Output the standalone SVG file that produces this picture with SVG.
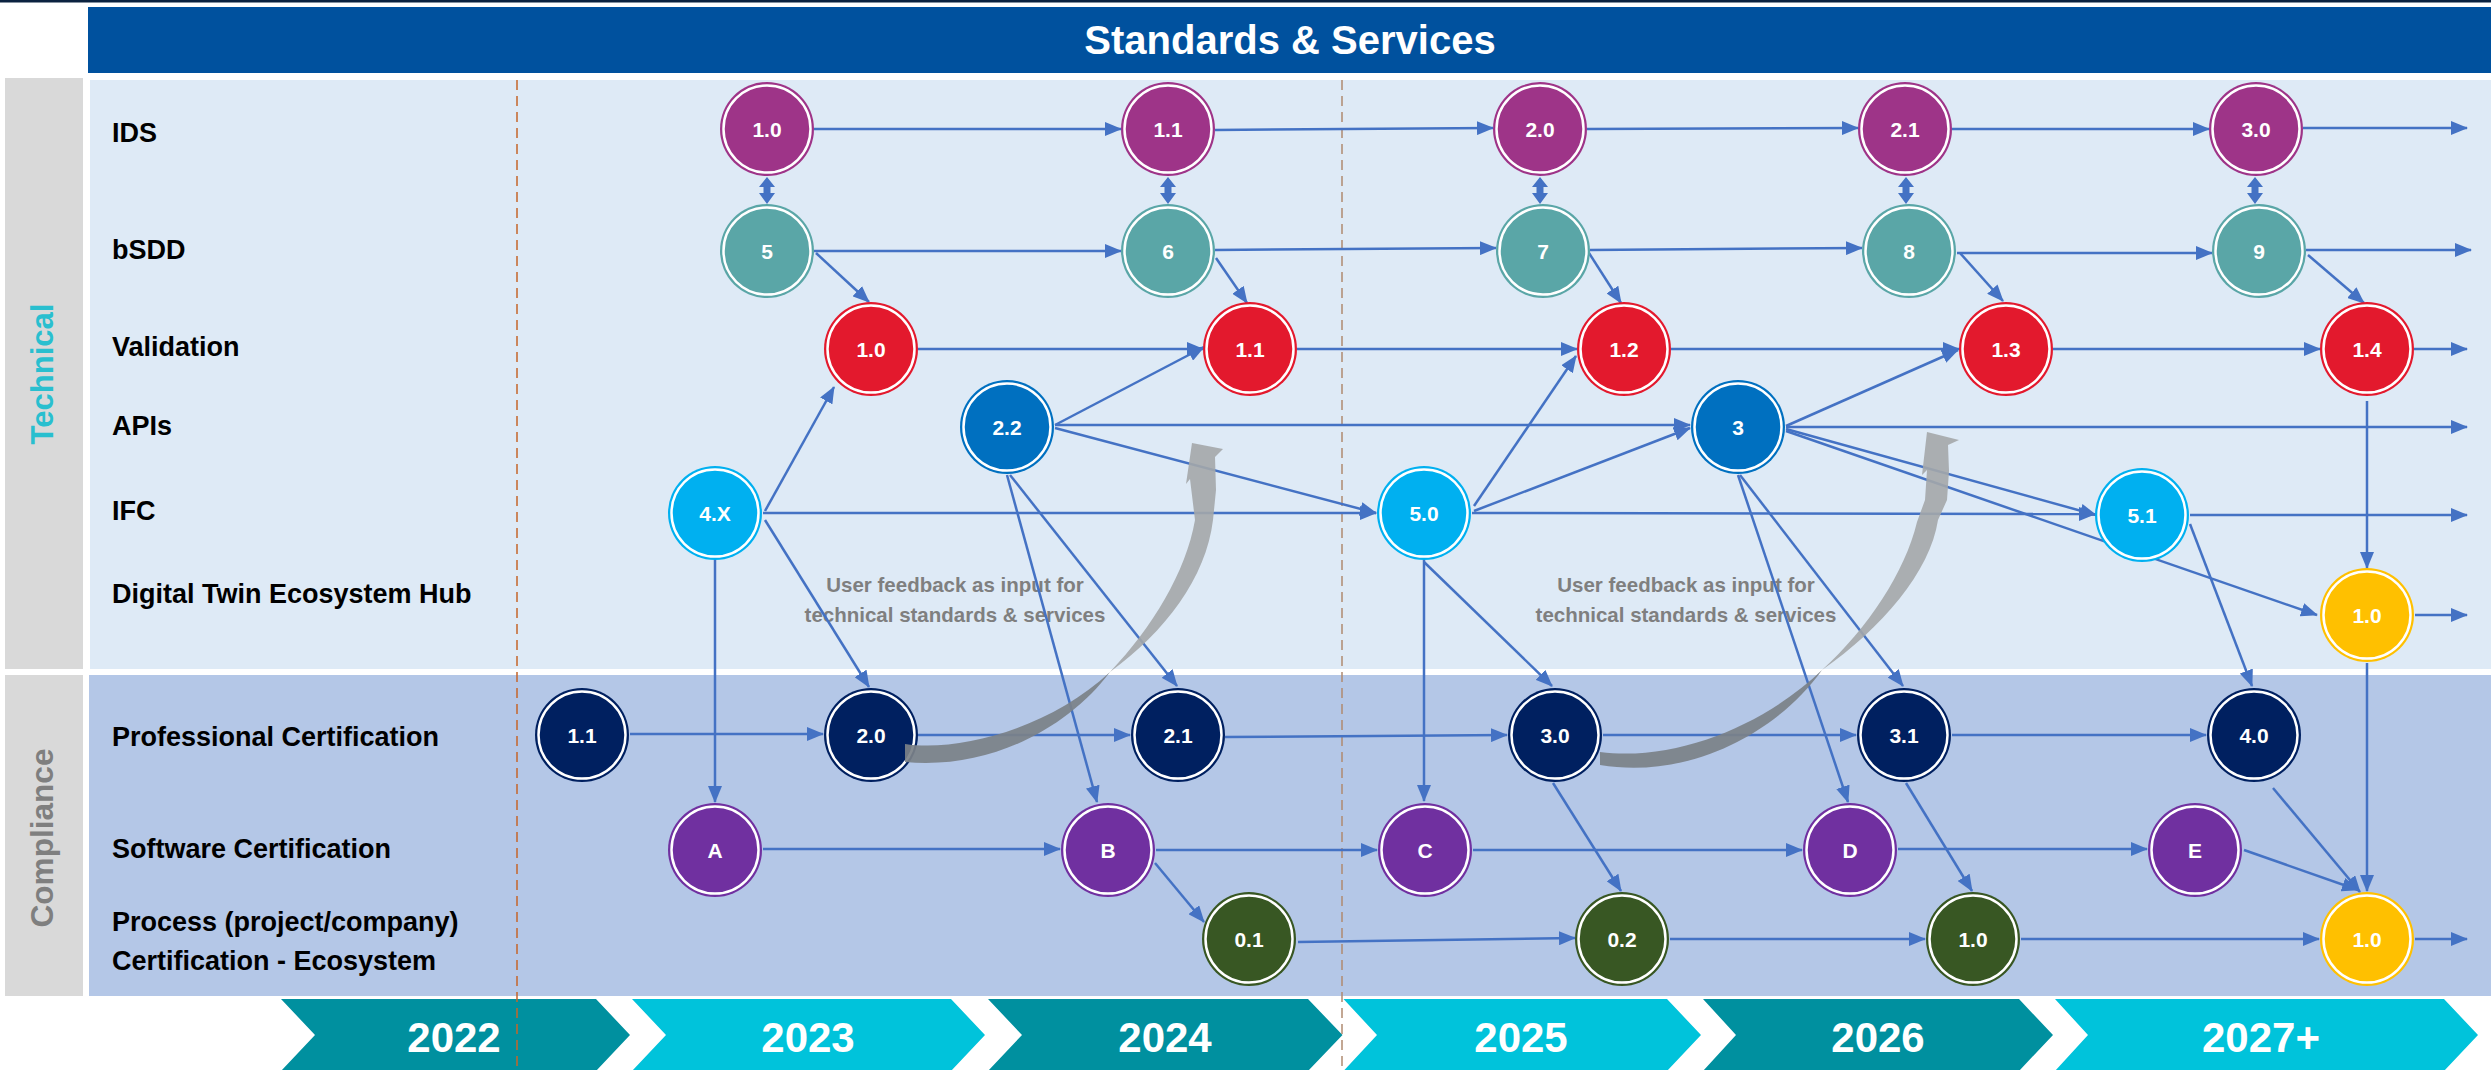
<svg xmlns="http://www.w3.org/2000/svg" width="2491" height="1070" viewBox="0 0 2491 1070">
<style>
.lbl{font-family:"Liberation Sans",Arial,sans-serif;font-weight:bold;font-size:27px;fill:#000}
.side{font-family:"Liberation Sans",Arial,sans-serif;font-weight:bold;font-size:31px;text-anchor:middle}
.yr{font-family:"Liberation Sans",Arial,sans-serif;font-weight:bold;font-size:42px;fill:#fff;text-anchor:middle}
.fb{font-family:"Liberation Sans",Arial,sans-serif;font-weight:bold;font-size:20.5px;fill:#7f7f7f;text-anchor:middle}
.node text{font-family:"Liberation Sans",Arial,sans-serif;font-weight:bold;font-size:21px;fill:#fff;text-anchor:middle}
.ring{fill:none;stroke:#fff;stroke-width:2.5}
.ids .bg{fill:#9e3488}
.bsdd .bg{fill:#5aa6a7}
.val .bg{fill:#e3192d}
.api .bg{fill:#0070c0}
.ifc .bg{fill:#00b0f0}
.dt .bg{fill:#ffc000}
.prof .bg{fill:#002060}
.soft .bg{fill:#7030a0}
.proc .bg{fill:#385723}
#connectors line{stroke:#4472c4;stroke-width:2.5;fill:none;marker-end:url(#ah)}
.dash{stroke:#c5652a;stroke-width:1.5;stroke-dasharray:10 6;fill:none}
.chev-d{fill:#00909f}
.chev-l{fill:#00c3db}
.dbl{fill:#4472c4}
.gdark{fill:#7b8188;opacity:0.92}
.glight{fill:#a4a7aa;opacity:0.9}
</style>
<defs>
<marker id="ah" markerUnits="userSpaceOnUse" markerWidth="18" markerHeight="14" refX="16" refY="7" orient="auto">
<path d="M0,0 L17,7 L0,14 Z" fill="#4472c4"/>
</marker>
<path id="dblarrow" d="M0,177 L8,187 L3.5,187 L3.5,193 L8,193 L0,204 L-8,193 L-3.5,193 L-3.5,187 L-8,187 Z"/>
</defs>

<rect width="2491" height="1070" fill="#ffffff"/>
<rect x="0" y="0" width="2491" height="2.5" fill="#0b2240"/>

<!-- header -->
<g id="header">
<rect x="88" y="7" width="2403" height="66" fill="#00519e"/>
<text x="1290" y="54" font-family="Liberation Sans, Arial, sans-serif" font-weight="bold" font-size="40" fill="#fff" text-anchor="middle">Standards &amp; Services</text>
</g>

<!-- panels -->
<g id="panels">
<rect x="5" y="78" width="78" height="591" fill="#d9d9d9"/>
<rect x="5" y="675" width="78" height="321" fill="#d9d9d9"/>
<rect x="90" y="80" width="2401" height="589" fill="#deeaf6"/>
<rect x="89" y="675" width="2402" height="321" fill="#b4c7e7"/>
<text class="side" fill="#29bfcf" transform="translate(53,374) rotate(-90)" textLength="141" lengthAdjust="spacingAndGlyphs">Technical</text>
<text class="side" fill="#7f7f7f" transform="translate(53,838) rotate(-90)" textLength="179" lengthAdjust="spacingAndGlyphs">Compliance</text>
</g>

<!-- row labels -->
<g id="row-labels">
<text class="lbl" x="112" y="142">IDS</text>
<text class="lbl" x="112" y="259">bSDD</text>
<text class="lbl" x="112" y="356">Validation</text>
<text class="lbl" x="112" y="435">APIs</text>
<text class="lbl" x="112" y="520">IFC</text>
<text class="lbl" x="112" y="603">Digital Twin Ecosystem Hub</text>
<text class="lbl" x="112" y="746">Professional Certification</text>
<text class="lbl" x="112" y="858">Software Certification</text>
<text class="lbl" x="112" y="931">Process (project/company)</text>
<text class="lbl" x="112" y="970">Certification - Ecosystem</text>
</g>

<!-- timeline chevrons -->
<g id="timeline">
<polygon class="chev-d" points="281,999 596,999 630,1035 596,1071 281,1071 315,1035"/>
<polygon class="chev-l" points="632,999 951,999 985,1035 951,1071 632,1071 666,1035"/>
<polygon class="chev-d" points="988,999 1308,999 1342.5,1035 1308,1071 988,1071 1022,1035"/>
<polygon class="chev-l" points="1343.5,999 1667,999 1701,1035 1667,1071 1343.5,1071 1377,1035"/>
<polygon class="chev-d" points="1703,999 2019,999 2053,1035 2019,1071 1703,1071 1736,1035"/>
<polygon class="chev-l" points="2055,999 2444,999 2478,1035 2444,1071 2055,1071 2088,1035"/>
<text class="yr" x="454" y="1052">2022</text>
<text class="yr" x="808" y="1052">2023</text>
<text class="yr" x="1165" y="1052">2024</text>
<text class="yr" x="1521" y="1052">2025</text>
<text class="yr" x="1878" y="1052">2026</text>
<text class="yr" x="2261" y="1052">2027+</text>
</g>

<!-- year separators -->
<g id="separators">
<line class="dash" x1="517" y1="80" x2="517" y2="1070"/>
<line class="dash" x1="1342" y1="80" x2="1342" y2="1070" style="stroke:#b08a70"/>
</g>

<!-- feedback captions -->
<g id="captions">
<text class="fb" x="955" y="592">User feedback as input for</text>
<text class="fb" x="955" y="622">technical standards &amp; services</text>
<text class="fb" x="1686" y="592">User feedback as input for</text>
<text class="fb" x="1686" y="622">technical standards &amp; services</text>
</g>

<!-- connectors -->
<g id="connectors">
<line x1="814" y1="129" x2="1121" y2="129"/>
<line x1="1215" y1="130" x2="1493" y2="128"/>
<line x1="1587" y1="129" x2="1858" y2="128"/>
<line x1="1952" y1="129" x2="2209" y2="129"/>
<line x1="2303" y1="128" x2="2467" y2="128"/>
<line x1="814" y1="251" x2="1121" y2="251"/>
<line x1="1215" y1="250" x2="1496" y2="248"/>
<line x1="1590" y1="250" x2="1862" y2="248"/>
<line x1="1957" y1="253" x2="2212" y2="253"/>
<line x1="2306" y1="250" x2="2471" y2="250"/>
<line x1="816" y1="253" x2="869" y2="302"/>
<line x1="1216" y1="258" x2="1247" y2="303"/>
<line x1="1589" y1="253" x2="1621" y2="303"/>
<line x1="1960" y1="253" x2="2003" y2="301"/>
<line x1="2308" y1="255" x2="2364" y2="303"/>
<line x1="918" y1="349" x2="1203" y2="349"/>
<line x1="1297" y1="349" x2="1577" y2="349"/>
<line x1="1671" y1="349" x2="1959" y2="349"/>
<line x1="2053" y1="349" x2="2320" y2="349"/>
<line x1="2414" y1="349" x2="2467" y2="349"/>
<line x1="2367" y1="401" x2="2367" y2="568"/>
<line x1="1055" y1="425" x2="1204" y2="347"/>
<line x1="1055" y1="425" x2="1690" y2="425"/>
<line x1="1055" y1="428" x2="1376" y2="513"/>
<line x1="1786" y1="426" x2="1958" y2="350"/>
<line x1="1786" y1="427" x2="2467" y2="427"/>
<line x1="1786" y1="429" x2="2096" y2="515"/>
<line x1="1786" y1="431" x2="2317" y2="615"/>
<line x1="765" y1="511" x2="834" y2="387"/>
<line x1="763" y1="513" x2="1376" y2="513"/>
<line x1="1474" y1="506" x2="1576" y2="356"/>
<line x1="1474" y1="511" x2="1690" y2="428"/>
<line x1="1472" y1="513" x2="2095" y2="514"/>
<line x1="2190" y1="515" x2="2467" y2="515"/>
<line x1="2190" y1="524" x2="2252" y2="686"/>
<line x1="715" y1="560" x2="715" y2="802"/>
<line x1="765" y1="520" x2="869" y2="687"/>
<line x1="1424" y1="560" x2="1424" y2="801"/>
<line x1="1424" y1="562" x2="1552" y2="686"/>
<line x1="1007" y1="475" x2="1097" y2="802"/>
<line x1="1010" y1="475" x2="1177" y2="686"/>
<line x1="1738" y1="475" x2="1848" y2="802"/>
<line x1="1740" y1="475" x2="1903" y2="686"/>
<line x1="2415" y1="615" x2="2467" y2="615"/>
<line x1="2367" y1="663" x2="2367" y2="891"/>
<line x1="630" y1="734" x2="823" y2="734"/>
<line x1="918" y1="735" x2="1130" y2="735"/>
<line x1="1225" y1="737" x2="1507" y2="735"/>
<line x1="1603" y1="735" x2="1856" y2="735"/>
<line x1="1952" y1="735" x2="2206" y2="735"/>
<line x1="1553" y1="783" x2="1621" y2="891"/>
<line x1="1906" y1="783" x2="1972" y2="891"/>
<line x1="2273" y1="788" x2="2360" y2="892"/>
<line x1="763" y1="849" x2="1060" y2="849"/>
<line x1="1156" y1="850" x2="1377" y2="850"/>
<line x1="1473" y1="850" x2="1802" y2="850"/>
<line x1="1898" y1="849" x2="2147" y2="849"/>
<line x1="1155" y1="863" x2="1204" y2="922"/>
<line x1="2244" y1="850" x2="2358" y2="890"/>
<line x1="1298" y1="942" x2="1575" y2="938"/>
<line x1="1670" y1="939" x2="1925" y2="939"/>
<line x1="2021" y1="939" x2="2319" y2="939"/>
<line x1="2415" y1="939" x2="2467" y2="939"/>
</g>

<!-- IDS <-> bSDD double arrows -->
<g id="ids-bsdd-links" class="dbl">
<use href="#dblarrow" x="767"/>
<use href="#dblarrow" x="1168"/>
<use href="#dblarrow" x="1540"/>
<use href="#dblarrow" x="1906"/>
<use href="#dblarrow" x="2255"/>
</g>

<!-- nodes -->
<g id="ids-1-0" class="node ids" transform="translate(767,129)"><circle class="bg" r="47"/><circle class="ring" r="43.5"/><text y="7.5">1.0</text></g>
<g id="ids-1-1" class="node ids" transform="translate(1168,129)"><circle class="bg" r="47"/><circle class="ring" r="43.5"/><text y="7.5">1.1</text></g>
<g id="ids-2-0" class="node ids" transform="translate(1540,129)"><circle class="bg" r="47"/><circle class="ring" r="43.5"/><text y="7.5">2.0</text></g>
<g id="ids-2-1" class="node ids" transform="translate(1905,129)"><circle class="bg" r="47"/><circle class="ring" r="43.5"/><text y="7.5">2.1</text></g>
<g id="ids-3-0" class="node ids" transform="translate(2256,129)"><circle class="bg" r="47"/><circle class="ring" r="43.5"/><text y="7.5">3.0</text></g>

<g id="bsdd-5" class="node bsdd" transform="translate(767,251)"><circle class="bg" r="47"/><circle class="ring" r="43.5"/><text y="7.5">5</text></g>
<g id="bsdd-6" class="node bsdd" transform="translate(1168,251)"><circle class="bg" r="47"/><circle class="ring" r="43.5"/><text y="7.5">6</text></g>
<g id="bsdd-7" class="node bsdd" transform="translate(1543,251)"><circle class="bg" r="47"/><circle class="ring" r="43.5"/><text y="7.5">7</text></g>
<g id="bsdd-8" class="node bsdd" transform="translate(1909,251)"><circle class="bg" r="47"/><circle class="ring" r="43.5"/><text y="7.5">8</text></g>
<g id="bsdd-9" class="node bsdd" transform="translate(2259,251)"><circle class="bg" r="47"/><circle class="ring" r="43.5"/><text y="7.5">9</text></g>

<g id="val-1-0" class="node val" transform="translate(871,349)"><circle class="bg" r="47"/><circle class="ring" r="43.5"/><text y="7.5">1.0</text></g>
<g id="val-1-1" class="node val" transform="translate(1250,349)"><circle class="bg" r="47"/><circle class="ring" r="43.5"/><text y="7.5">1.1</text></g>
<g id="val-1-2" class="node val" transform="translate(1624,349)"><circle class="bg" r="47"/><circle class="ring" r="43.5"/><text y="7.5">1.2</text></g>
<g id="val-1-3" class="node val" transform="translate(2006,349)"><circle class="bg" r="47"/><circle class="ring" r="43.5"/><text y="7.5">1.3</text></g>
<g id="val-1-4" class="node val" transform="translate(2367,349)"><circle class="bg" r="47"/><circle class="ring" r="43.5"/><text y="7.5">1.4</text></g>

<g id="api-2-2" class="node api" transform="translate(1007,427)"><circle class="bg" r="47"/><circle class="ring" r="43.5"/><text y="7.5">2.2</text></g>
<g id="api-3" class="node api" transform="translate(1738,427)"><circle class="bg" r="47"/><circle class="ring" r="43.5"/><text y="7.5">3</text></g>

<g id="ifc-4-x" class="node ifc" transform="translate(715,513)"><circle class="bg" r="47"/><circle class="ring" r="43.5"/><text y="7.5">4.X</text></g>
<g id="ifc-5-0" class="node ifc" transform="translate(1424,513)"><circle class="bg" r="47"/><circle class="ring" r="43.5"/><text y="7.5">5.0</text></g>
<g id="ifc-5-1" class="node ifc" transform="translate(2142,515)"><circle class="bg" r="47"/><circle class="ring" r="43.5"/><text y="7.5">5.1</text></g>

<g id="dt-1-0" class="node dt" transform="translate(2367,615)"><circle class="bg" r="47"/><circle class="ring" r="43.5"/><text y="7.5">1.0</text></g>

<g id="prof-1-1" class="node prof" transform="translate(582,735)"><circle class="bg" r="47"/><circle class="ring" r="43.5"/><text y="7.5">1.1</text></g>
<g id="prof-2-0" class="node prof" transform="translate(871,735)"><circle class="bg" r="47"/><circle class="ring" r="43.5"/><text y="7.5">2.0</text></g>
<g id="prof-2-1" class="node prof" transform="translate(1178,735)"><circle class="bg" r="47"/><circle class="ring" r="43.5"/><text y="7.5">2.1</text></g>
<g id="prof-3-0" class="node prof" transform="translate(1555,735)"><circle class="bg" r="47"/><circle class="ring" r="43.5"/><text y="7.5">3.0</text></g>
<g id="prof-3-1" class="node prof" transform="translate(1904,735)"><circle class="bg" r="47"/><circle class="ring" r="43.5"/><text y="7.5">3.1</text></g>
<g id="prof-4-0" class="node prof" transform="translate(2254,735)"><circle class="bg" r="47"/><circle class="ring" r="43.5"/><text y="7.5">4.0</text></g>

<g id="soft-a" class="node soft" transform="translate(715,850)"><circle class="bg" r="47"/><circle class="ring" r="43.5"/><text y="7.5">A</text></g>
<g id="soft-b" class="node soft" transform="translate(1108,850)"><circle class="bg" r="47"/><circle class="ring" r="43.5"/><text y="7.5">B</text></g>
<g id="soft-c" class="node soft" transform="translate(1425,850)"><circle class="bg" r="47"/><circle class="ring" r="43.5"/><text y="7.5">C</text></g>
<g id="soft-d" class="node soft" transform="translate(1850,850)"><circle class="bg" r="47"/><circle class="ring" r="43.5"/><text y="7.5">D</text></g>
<g id="soft-e" class="node soft" transform="translate(2195,850)"><circle class="bg" r="47"/><circle class="ring" r="43.5"/><text y="7.5">E</text></g>

<g id="proc-0-1" class="node proc" transform="translate(1249,939)"><circle class="bg" r="47"/><circle class="ring" r="43.5"/><text y="7.5">0.1</text></g>
<g id="proc-0-2" class="node proc" transform="translate(1622,939)"><circle class="bg" r="47"/><circle class="ring" r="43.5"/><text y="7.5">0.2</text></g>
<g id="proc-1-0" class="node proc" transform="translate(1973,939)"><circle class="bg" r="47"/><circle class="ring" r="43.5"/><text y="7.5">1.0</text></g>
<g id="proc-eco-1-0" class="node dt" transform="translate(2367,939)"><circle class="bg" r="47"/><circle class="ring" r="43.5"/><text y="7.5">1.0</text></g>

<!-- feedback curved arrows -->
<g id="feedback-arrow-1">
<path class="gdark" d="M905,744 C960,752 1050,728 1110,672 C1068,728 990,770 905,762 Z"/>
<path class="glight" d="M1110,672 C1165,632 1206,578 1213,520 L1216,490 L1215,457 L1223,449 L1192,443 L1186,484 L1190,479 L1195,520 C1186,572 1152,628 1110,672 Z"/>
</g>
<g id="feedback-arrow-2">
<path class="gdark" d="M1600,752 C1680,762 1768,722 1822,670 C1778,732 1690,780 1600,765 Z"/>
<path class="glight" d="M1822,670 C1882,628 1930,572 1938,520 L1947,500 L1949,471 L1948,445 L1959,440 L1927,432 L1922,475 L1927,470 L1925,500 L1917,522 C1905,572 1868,628 1822,670 Z"/>
</g>
</svg>
